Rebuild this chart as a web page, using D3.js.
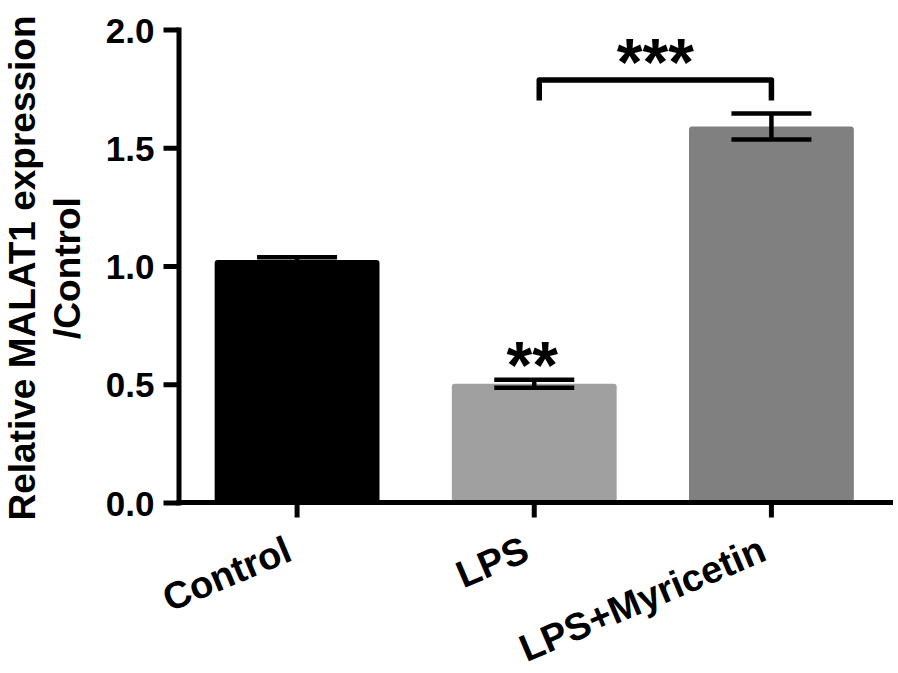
<!DOCTYPE html>
<html>
<head>
<meta charset="utf-8">
<script src="https://cdn.jsdelivr.net/npm/d3@7"></script>
<style>
  html, body { margin: 0; padding: 0; background: #ffffff; }
  svg { display: block; }
  text { font-family: "Liberation Sans", Arial, sans-serif; font-weight: bold; fill: #000; }
</style>
</head>
<body>
<svg id="chart" width="898" height="673"></svg>
<script>
// ---- data ----
const categories = ["Control", "LPS", "LPS+Myricetin"];
const means = [1.025, 0.502, 1.59];
const sems = [0.012, 0.017, 0.055];
const barColors = ["#000000", "#a0a0a0", "#808080"];
const yTicks = [0.0, 0.5, 1.0, 1.5, 2.0];
const starLabels = ["", "**", ""];
const comparison = { from: "LPS", to: "LPS+Myricetin", label: "***" };
const yTitleLines = ["Relative MALAT1 expression", "/Control"];

// ---- layout ----
const svg = d3.select("#chart");
const plotLeft = 178.5, plotRight = 890, plotTop = 29.5, plotBottom = 502.5;

const x = d3.scaleBand().domain(categories).range([plotLeft, plotRight])
  .paddingInner(0.305).paddingOuter(0.1525);
const y = d3.scaleLinear().domain([0, 2]).range([plotBottom, plotTop]);

const data = categories.map((c, i) => ({ c, m: means[i], s: sems[i], col: barColors[i], star: starLabels[i] }));

// bars
svg.append("g").selectAll("rect").data(data).join("rect")
  .attr("x", d => x(d.c))
  .attr("y", d => y(d.m))
  .attr("width", x.bandwidth())
  .attr("height", d => y(0) - y(d.m))
  .attr("rx", 3)
  .attr("fill", d => d.col);

// error bars
const capHalf = 40;
const eb = svg.append("g").attr("stroke", "#000").attr("stroke-width", 4.5).attr("fill", "none");
data.forEach(d => {
  const cx = x(d.c) + x.bandwidth() / 2;
  eb.append("line").attr("x1", cx).attr("x2", cx).attr("y1", y(d.m + d.s)).attr("y2", y(d.m - d.s));
  eb.append("line").attr("x1", cx - capHalf).attr("x2", cx + capHalf).attr("y1", y(d.m + d.s)).attr("y2", y(d.m + d.s));
  eb.append("line").attr("x1", cx - capHalf).attr("x2", cx + capHalf).attr("y1", y(d.m - d.s)).attr("y2", y(d.m - d.s));
});

// y axis
const yAxis = svg.append("g").attr("transform", `translate(${plotLeft},0)`)
  .call(d3.axisLeft(y).tickValues(yTicks).tickFormat(d3.format(".1f")).tickSize(15).tickSizeOuter(0).tickPadding(9));
yAxis.select(".domain").attr("stroke-width", 5).attr("stroke-linecap", "square");
yAxis.selectAll(".tick line").attr("stroke-width", 5);
yAxis.selectAll(".tick text").style("font-size", "35px").attr("dy", "0.36em");

// x axis
const xAxis = svg.append("g").attr("transform", `translate(0,${plotBottom})`)
  .call(d3.axisBottom(x).tickSize(15).tickSizeOuter(0).tickPadding(0));
xAxis.select(".domain").remove();
xAxis.append("line").attr("x1", plotLeft - 2).attr("x2", 893).attr("y1", 0).attr("y2", 0)
  .attr("stroke", "#000").attr("stroke-width", 5);
xAxis.selectAll(".tick line").attr("stroke-width", 5);
xAxis.selectAll(".tick text")
  .style("font-size", "38px")
  .attr("text-anchor", "end")
  .attr("y", 0).attr("dy", 0)
  .attr("transform", "translate(-3,57) rotate(-23)");

// significance stars above single bar
svg.append("g").selectAll("text").data(data.filter(d => d.star)).join("text")
  .attr("x", d => x(d.c) + x.bandwidth() / 2 - 2)
  .attr("y", d => y(d.m + d.s) + 8)
  .attr("text-anchor", "middle")
  .style("font-size", "66px")
  .text(d => d.star);

// bracket comparison
const bx1 = x(comparison.from) + x.bandwidth() / 2 + 5;
const bx2 = x(comparison.to) + x.bandwidth() / 2;
const byTop = y(1.786), byLeg = y(1.70);
svg.append("path")
  .attr("d", `M${bx1},${byLeg}V${byTop}H${bx2}V${byLeg}`)
  .attr("fill", "none").attr("stroke", "#000").attr("stroke-width", 5.5)
  .attr("stroke-linejoin", "round");
svg.append("text")
  .attr("x", (bx1 + bx2) / 2)
  .attr("y", byTop + 5)
  .attr("text-anchor", "middle")
  .style("font-size", "66px")
  .text(comparison.label);

// y title
const yt = svg.append("text")
  .attr("transform", `translate(35,${(plotTop + plotBottom) / 2 + 2}) rotate(-90)`)
  .attr("text-anchor", "middle")
  .style("font-size", "37px");
yTitleLines.forEach((t, i) => {
  yt.append("tspan").attr("x", 0).attr("y", i * 45).text(t);
});
</script>
</body>
</html>
